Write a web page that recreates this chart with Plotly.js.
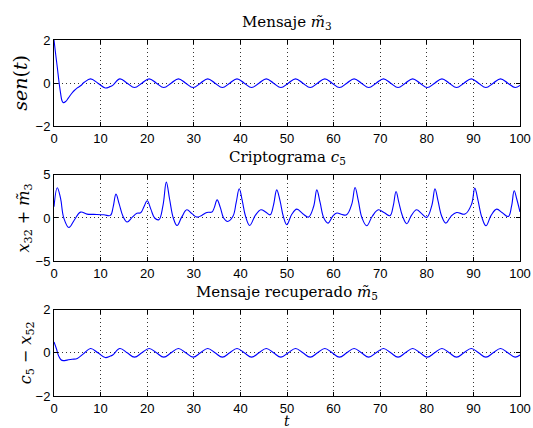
<!DOCTYPE html>
<html>
<head>
<meta charset="utf-8">
<script src="https://cdn.plot.ly/plotly-3.0.1.min.js"></script>
<style>html,body{margin:0;padding:0;background:#fff;}#chart{width:533px;height:428px;}</style>
</head>
<body>
<div id="chart"></div>
<script>
// Panel 1: message m3 — initial transient
const tHead1 = [0, 0.35, 0.7, 1.05, 1.4, 1.7, 2.0, 2.5, 3.1, 3.7, 4.3, 5.0, 5.7, 6.5, 7.85, 9.42, 11.0, 12.0, 12.6, 14.14];
const mHead1 = [2.0, 1.35, 0.75, 0.1, -0.45, -0.8, -0.9, -0.85, -0.68, -0.5, -0.35, -0.22, -0.12, 0.04, 0.2, 0.0, -0.22, -0.16, -0.1, 0.2];

// Panel 3: recovered message m5 — initial transient
const tHead3 = [0, 0.5, 1.0, 1.5, 2.0, 2.8, 3.9, 5.0, 6.3, 7.85, 9.42, 11.0, 12.0, 12.6, 14.14];
const mHead3 = [0.5, 0.2, -0.15, -0.32, -0.36, -0.34, -0.3, -0.26, -0.05, 0.2, 0.0, -0.22, -0.16, -0.1, 0.2];

// Steady oscillation (shared by panels 1 and 3), read at peaks / zero crossings / troughs
const tTail = [15.71, 17.28, 18.85, 20.42, 21.99, 23.56, 25.13, 26.70, 28.27, 29.85,
  31.42, 32.99, 34.56, 36.13, 37.70, 39.27, 40.84, 42.41, 43.98, 45.55,
  47.12, 48.69, 50.27, 51.84, 53.41, 54.98, 56.55, 58.12, 59.69, 61.26,
  62.83, 64.40, 65.97, 67.54, 69.12, 70.69, 72.26, 73.83, 75.40, 76.97,
  78.54, 80.11, 81.68, 83.25, 84.82, 86.39, 87.96, 89.54, 91.11, 92.68,
  94.25, 95.82, 97.39, 98.96, 100];
const mTail = [0, -0.2, 0, 0.2, 0, -0.2, 0, 0.2, 0, -0.2,
  0, 0.2, 0, -0.2, 0, 0.2, 0, -0.2, 0, 0.2,
  0, -0.2, 0, 0.2, 0, -0.2, 0, 0.2, 0, -0.2,
  0, 0.2, 0, -0.2, 0, 0.2, 0, -0.2, 0, 0.2,
  0, -0.2, 0, 0.2, 0, -0.2, 0, 0.2, 0, -0.2,
  0, 0.2, 0, -0.2, -0.1];

// Panel 2: cryptogram c5 = x32 + m3
const t2 = [0, 0.7, 1.4, 2.1, 3.2, 4.4, 5.7, 7.1, 8.5, 10.7, 12.1, 12.7, 13.3, 14.0, 14.8, 15.7, 16.8, 17.8, 18.6, 19.3,
  20.0, 20.8, 21.6, 22.5, 23.4, 24.1, 24.8, 25.6, 26.4, 27.4, 28.5, 29.6, 30.7, 31.7, 32.8, 33.9, 34.4, 35.0, 35.7, 36.4,
  37.25, 38.4, 39.1, 39.75, 40.4, 41.1, 42.0, 43.2, 44.4, 45.4, 46.4, 47.1, 47.8, 48.5, 49.2, 49.96, 51.0, 52.1, 53.4, 54.6,
  55.7, 56.4, 57.1, 57.9, 58.8, 59.8, 60.7, 61.8, 62.8, 63.9, 64.6, 65.3, 66.1, 67.1, 68.3, 69.6, 70.9, 72.1, 72.8, 73.4,
  74.0, 74.8, 75.7, 76.7, 77.8, 78.9, 80.0, 81.1, 81.75, 82.4, 83.2, 84.1, 85.2, 86.4, 88.2, 89.6, 90.3, 91.0, 91.8, 92.7,
  93.8, 95.0, 96.2, 97.5, 98.2, 98.75, 99.3, 100];
const c2 = [1.3, 3.5, 2.3, 0.0, -1.1, -0.2, 0.68, 0.45, 0.42, 0.37, 0.3, 1.3, 2.76, 1.6, 0.2, -0.47, 0.1, 0.55, 0.6, 1.3,
  2.0, 1.0, 0.0, -0.2, 1.5, 4.15, 2.2, 0.0, -0.87, 0.1, 0.95, 0.5, 0.1, 0.3, 0.64, 0.7, 1.2, 2.1, 1.2, 0.0,
  -0.4, 0.2, 1.8, 3.38, 2.0, 0.2, -0.86, 0.3, 0.95, 0.7, 0.37, 1.5, 3.26, 2.0, 0.2, -0.78, 0.4, 1.03, 0.5, 0.1,
  1.3, 3.26, 1.8, 0.0, -0.59, 0.2, 0.57, 0.4, 0.37, 1.6, 3.53, 2.0, 0.0, -0.9, 0.2, 0.95, 0.6, 0.26, 1.4, 3.07,
  1.8, 0.2, -0.66, 0.3, 0.95, 0.5, 0.07, 1.5, 3.38, 2.0, 0.2, -0.59, 0.2, 0.64, 0.45, 1.6, 3.46, 2.0, 0.1, -0.9,
  0.3, 1.03, 0.6, 0.18, 1.4, 3.15, 2.2, 0.7];

const xTicks = [0, 10, 20, 30, 40, 50, 60, 70, 80, 90, 100];
const yTicks1 = [-2, 0, 2];
const yTicks2 = [-5, 0, 5];
const yTicks3 = [-2, 0, 2];

const lineStyle = {color: '#0000ff', width: 1.1, shape: 'spline', smoothing: 1.1};
const traces = [
  {x: tHead1.concat(tTail), y: mHead1.concat(mTail), xaxis: 'x', yaxis: 'y', mode: 'lines', line: lineStyle, hoverinfo: 'skip'},
  {x: t2, y: c2, xaxis: 'x2', yaxis: 'y2', mode: 'lines', line: lineStyle, hoverinfo: 'skip'},
  {x: tHead3.concat(tTail), y: mHead3.concat(mTail), xaxis: 'x3', yaxis: 'y3', mode: 'lines', line: lineStyle, hoverinfo: 'skip'}
];

const tickFont = {family: 'Liberation Sans, Arial, sans-serif', size: 13, color: '#000'};
function xax(anchor) {
  return {anchor: anchor, domain: [0, 1], range: [0, 100], tickvals: xTicks, ticktext: xTicks.map(String),
    ticks: 'inside', ticklen: 4, tickwidth: 1, tickcolor: '#000', showline: true, linecolor: '#000', linewidth: 1,
    mirror: 'ticks', showgrid: true, gridcolor: '#333', griddash: '1px,3px', gridwidth: 1, zeroline: false,
    tickfont: tickFont, fixedrange: true};
}
function yax(anchor, dom, rng, ticks) {
  return {anchor: anchor, domain: dom, range: rng, tickvals: ticks, ticktext: ticks.map(v => v < 0 ? '\u2212' + Math.abs(v) : String(v)),
    ticks: 'inside', ticklen: 4, tickwidth: 1, tickcolor: '#000', showline: true, linecolor: '#000', linewidth: 1,
    mirror: 'ticks', showgrid: true, gridcolor: '#333', griddash: '1px,3px', gridwidth: 1, zeroline: false,
    tickfont: tickFont, fixedrange: true};
}

const serif = {family: 'DejaVu Serif, serif', size: 15, color: '#000'};
const labFont = {family: 'DejaVu Serif, serif', size: 16, color: '#000'};

const layout = {
  width: 533, height: 428,
  margin: {l: 53.5, r: 13, t: 40, b: 31.5},
  paper_bgcolor: '#fff', plot_bgcolor: '#fff',
  showlegend: false,
  xaxis: xax('y'), xaxis2: xax('y2'), xaxis3: xax('y3'),
  yaxis: yax('x', [0.7574, 1], [-2, 2], yTicks1),
  yaxis2: yax('x2', [0.3787, 0.6213], [-5, 5], yTicks2),
  yaxis3: yax('x3', [0, 0.2426], [-2, 2], yTicks3),
  annotations: [
    {text: 'Mensaje <i>m\u0303</i><sub>3</sub>', xref: 'paper', x: 0.5, yref: 'y domain', y: 1, yanchor: 'bottom', yshift: 6, showarrow: false, font: serif},
    {text: 'Criptograma <i>c</i><sub>5</sub>', xref: 'paper', x: 0.5, yref: 'y2 domain', y: 1, yanchor: 'bottom', yshift: 6, showarrow: false, font: serif},
    {text: 'Mensaje recuperado <i>m\u0303</i><sub>5</sub>', xref: 'paper', x: 0.5, yref: 'y3 domain', y: 1, yanchor: 'bottom', yshift: 6, showarrow: false, font: serif},
    {text: '<i>sen</i>(<i>t</i>)', xref: 'paper', x: -0.0718, xanchor: 'center', yref: 'y domain', y: 0.5, yanchor: 'middle', textangle: -90, showarrow: false, font: {family: 'DejaVu Serif, serif', size: 19, color: '#000'}},
    {text: '<i>x</i><sub>32</sub> + <i>m\u0303</i><sub>3</sub>', xref: 'paper', x: -0.0654, xanchor: 'center', yref: 'y2 domain', y: 0.5, yanchor: 'middle', textangle: -90, showarrow: false, font: labFont},
    {text: '<i>c</i><sub>5</sub> \u2212 <i>x</i><sub>52</sub>', xref: 'paper', x: -0.059, xanchor: 'center', yref: 'y3 domain', y: 0.5, yanchor: 'middle', textangle: -90, showarrow: false, font: labFont},
    {text: '<i>t</i>', xref: 'paper', x: 0.5, yref: 'paper', y: 0, yanchor: 'top', yshift: -18, height: 12, borderpad: 0, showarrow: false, font: {family: 'DejaVu Serif, serif', size: 14, color: '#000'}}
  ]
};

Plotly.newPlot('chart', traces, layout, {displayModeBar: false, staticPlot: true});
</script>
</body>
</html>
